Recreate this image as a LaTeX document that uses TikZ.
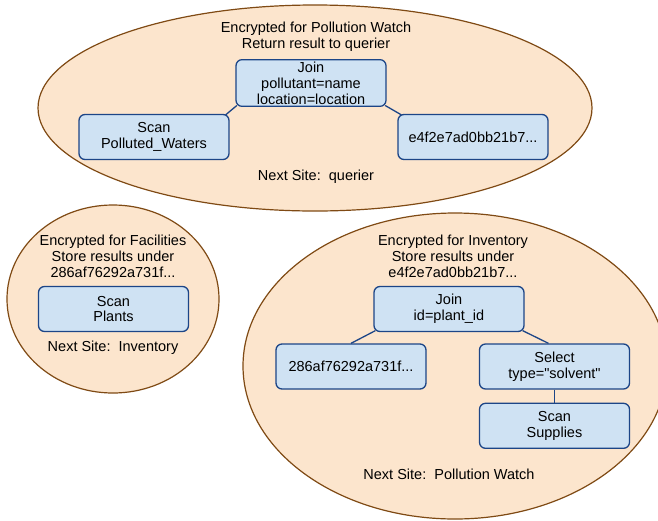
\documentclass[tikz,border=0pt]{standalone}
\usepackage{fontspec}
\setmainfont{Liberation Sans}
\usetikzlibrary{positioning,shapes.geometric}
\definecolor{peach}{HTML}{FCE5CD}
\definecolor{siteline}{HTML}{7F4A14}
\definecolor{opfill}{HTML}{CFE2F3}
\definecolor{opline}{HTML}{1C4587}
\tikzset{
  site/.style={draw=siteline,fill=peach,ellipse,line width=1.2pt,inner sep=0pt},
  op/.style={draw=opline,fill=opfill,rounded corners=6pt,line width=1.3pt,
    minimum width=150pt,minimum height=45pt,inner ysep=2pt,align=center,
    font=\fontsize{14.5}{16}\selectfont},
  note/.style={align=center,font=\fontsize{14.5}{16}\selectfont},
  link/.style={draw=opline,line width=1.3pt}
}
\begin{document}
\begin{tikzpicture}[x=1pt,y=-1pt]
\useasboundingbox (0,0) rectangle (658,520);
% sites
\node[site,minimum width=554pt,minimum height=206pt](pw) at (315,108){};
\node[site,minimum width=212pt,minimum height=188pt](fac) at (113,299){};
\node[site,minimum width=424pt,minimum height=306pt](inv) at (455,366){};
% Pollution Watch
\node[note](pwhead) at (316,37){Encrypted for Pollution Watch\\Return result to querier};
\node[op](joinpw) at (311,83){Join\\pollutant=name\\location=location};
\node[op](scanpw) at (154,137){Scan\\Polluted\_Waters};
\node[op](hashinv) at (473,137){e4f2e7ad0bb21b7...};
\node[note](pwnext) at (316,177){Next Site:\ \ querier};
\path[link] ([shift={(1.5,-1.5)}]joinpw.south west) -- ([shift={(-4,1)}]scanpw.north east);
\path[link] ([shift={(-1.5,-1.5)}]joinpw.south east) -- ([shift={(4,1)}]hashinv.north west);
% Facilities
\node[note](fachead) at (113,256){Encrypted for Facilities\\Store results under\\286af76292a731f...};
\node[op](scanpl) at (113.5,309){Scan\\Plants};
\node[note](facnext) at (113,348){Next Site:\ \ Inventory};
% Inventory
\node[note](invhead) at (453,256){Encrypted for Inventory\\Store results under\\e4f2e7ad0bb21b7...};
\node[op](joininv) at (449,309){Join\\id=plant\_id};
\node[op](hashfac) at (351,366.5){286af76292a731f...};
\node[op](selsup) at (554.5,366.5){Select\\type=\textquotedbl solvent\textquotedbl};
\node[op,below=13pt of selsup](scansup){Scan\\Supplies};
\node[note](invnext) at (449,474){Next Site:\ \ Pollution Watch};
\path[link] ([shift={(2,-1.5)}]joininv.south west) -- (hashfac.north);
\path[link] ([shift={(-2,-1.5)}]joininv.south east) -- ([shift={(-6,0)}]selsup.north);
\path[link] (selsup) -- (scansup);
\end{tikzpicture}
\end{document}
